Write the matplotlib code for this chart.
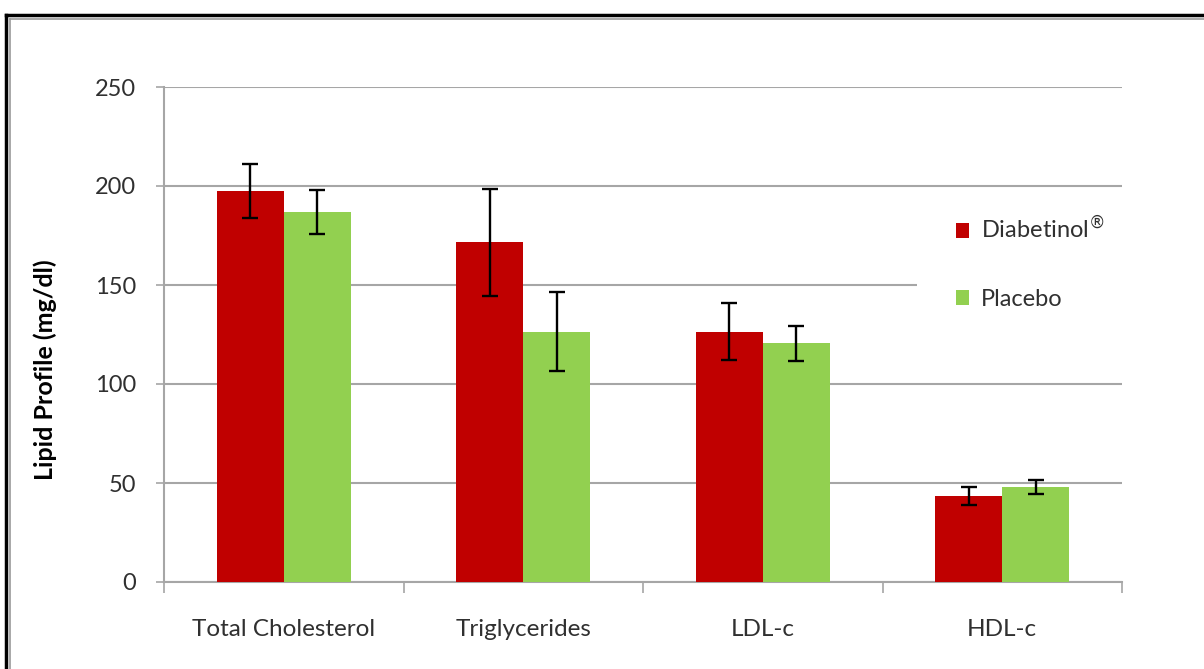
import numpy as np
import matplotlib.pyplot as plt
from matplotlib.lines import Line2D
from matplotlib.patches import Patch, Rectangle

categories = ["Total Cholesterol", "Triglycerides", "LDL-c", "HDL-c"]
diabetinol = [197.5, 171.5, 126.5, 43.5]
diabetinol_err = [13.5, 27.0, 14.5, 4.5]
placebo = [187.0, 126.5, 120.5, 48.0]
placebo_err = [11.0, 20.0, 9.0, 3.5]
yticks = [0, 50, 100, 150, 200, 250]

red = "#C00000"
green = "#92D050"
grid = "#A6A6A6"
txt = "#303030"

plt.rcParams['font.family'] = ['Lato', 'DejaVu Sans']

fig = plt.figure(figsize=(12.04, 6.69), dpi=100)
ax = fig.add_axes([164/1204, 87/669, 958/1204, 495/669])

x = np.arange(len(categories))
w = 0.28
ax.bar(x - w/2, diabetinol, w, color=red, zorder=3)
ax.bar(x + w/2, placebo, w, color=green, zorder=3)
ax.errorbar(x - w/2, diabetinol, yerr=diabetinol_err, fmt='none', ecolor='black',
            elinewidth=1.7, capsize=5.5, capthick=1.7, zorder=4)
ax.errorbar(x + w/2, placebo, yerr=placebo_err, fmt='none', ecolor='black',
            elinewidth=1.7, capsize=5.5, capthick=1.7, zorder=4)

ax.set_xlim(-0.5, len(categories) - 0.5)
ax.set_ylim(0, 250)
ax.set_yticks(yticks)
ax.set_yticklabels([str(t) for t in yticks], fontsize=17, color=txt)
ax.set_xticks(x)
ax.set_xticklabels(categories, fontsize=17.5, color=txt)
ax.set_xticks(np.arange(-0.5, len(categories)), minor=True)
ax.tick_params(axis='x', which='major', length=0, pad=27)
ax.tick_params(axis='x', which='minor', length=8, width=1.2, color=grid, direction='out')
ax.tick_params(axis='y', length=6, width=1.2, color=grid, pad=14)

ax.yaxis.grid(True, color=grid, linewidth=1.5, zorder=0)
ax.set_axisbelow(True)
for s in ['top', 'right']:
    ax.spines[s].set_visible(False)
for s in ['left', 'bottom']:
    ax.spines[s].set_color(grid)
    ax.spines[s].set_linewidth(1.5)

fig.text(45/1204, 1 - 370/669, "Lipid Profile (mg/dl)", rotation=90, fontsize=18,
         fontweight='bold', ha='center', va='center', color='black')

# white legend area hiding the grid line behind the legend
ax.add_patch(Rectangle((753/958, 1 - 280/495), 230/958, 170/495, transform=ax.transAxes,
                       facecolor='white', edgecolor='none', zorder=1, clip_on=False))

handles = [Patch(facecolor=red, edgecolor='none'), Patch(facecolor=green, edgecolor='none')]
leg = ax.legend(handles, ["Diabetinol$^{\u00ae}$", "Placebo"], loc='upper left',
                bbox_to_anchor=(783/958, 1 - 119/495), fontsize=17, frameon=False,
                borderaxespad=0, labelspacing=1.95,
                handlelength=0.55, handleheight=0.6, handletextpad=0.5, borderpad=0.4)
for t in leg.get_texts():
    t.set_color(txt)
leg.set_zorder(5)

# outer frame
fig.add_artist(Line2D([6/1204, 1], [1 - 15/669, 1 - 15/669], color='black', lw=2.5))
fig.add_artist(Line2D([6/1204, 6/1204], [0, 1 - 15/669], color='black', lw=2.5))
fig.add_artist(Line2D([10/1204, 1], [1 - 18.5/669, 1 - 18.5/669], color='#999999', lw=1.2))
fig.add_artist(Line2D([10/1204, 10/1204], [0, 1 - 18.5/669], color='#999999', lw=1.2))

fig.savefig("out.png", dpi=100, facecolor='white')
